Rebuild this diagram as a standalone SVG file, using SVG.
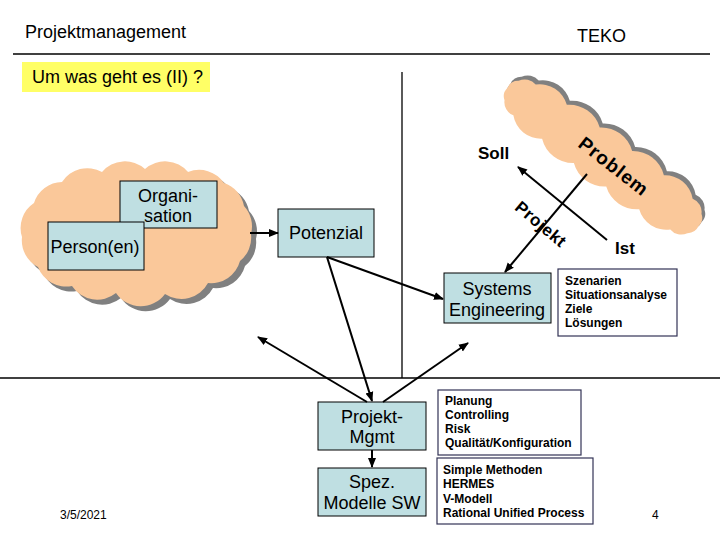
<svg xmlns="http://www.w3.org/2000/svg" width="720" height="540" viewBox="0 0 720 540">
<style>
text{font-family:"Liberation Sans",Arial,sans-serif;fill:#000}
.h{font-size:18px}
.n{font-size:18px;text-anchor:middle}
.b{font-size:12px;font-weight:bold}
.lab{font-size:17px;font-weight:bold}
.box{fill:#bfdfe2;stroke:#000;stroke-width:1}
.tb{fill:#fff;stroke:#333355;stroke-width:1.2}
.cloud{fill:#fac89a}
.shadow{fill:#808080}
.ln{stroke:#000;stroke-width:1.3;fill:none}
.ar{stroke:#000;stroke-width:2;fill:none;marker-end:url(#ah)}
</style>
<defs>
<marker id="ah" viewBox="0 0 10 10" refX="9" refY="5" markerWidth="10" markerHeight="10" markerUnits="userSpaceOnUse" orient="auto">
<path d="M0,1 L10,5 L0,9 z" fill="#000"/>
</marker>
<path id="cl1" d="M22,237 A30,30 0 0 1 34,203 A30,30 0 0 1 62,182 A30,30 0 0 1 102,172 A30,30 0 0 1 145,169 A30,30 0 0 1 188,172 A30,30 0 0 1 224,183 A30,30 0 0 1 244,206 A30,30 0 0 1 251,234 A30,30 0 0 1 240,261 A30,30 0 0 1 208,283 A30,30 0 0 1 165,294 A30,30 0 0 1 116,293 A30,30 0 0 1 72,286 A30,30 0 0 1 38,267 A30,30 0 0 1 22,237 Z"/>
<path id="cl2" d="M118,0 A12,12 0 0 1 113,12 A14,14 0 0 1 97,19 A28,28 0 0 1 60,21 A32,32 0 0 1 20,22 A32,32 0 0 1 -20,22 A32,32 0 0 1 -60,21 A28,28 0 0 1 -97,19 A14,14 0 0 1 -113,12 A12,12 0 0 1 -118,0 A12,12 0 0 1 -113,-12 A14,14 0 0 1 -97,-19 A28,28 0 0 1 -60,-21 A32,32 0 0 1 -20,-22 A32,32 0 0 1 20,-22 A32,32 0 0 1 60,-21 A28,28 0 0 1 97,-19 A14,14 0 0 1 113,-12 A12,12 0 0 1 118,0 Z"/>
</defs>
<rect width="720" height="540" fill="#fff"/>

<g id="header">
<text class="h" x="25" y="38">Projektmanagement</text>
<text class="h" x="577" y="42">TEKO</text>
<line class="ln" x1="13" y1="54" x2="710" y2="54"/>
<rect x="22" y="62" width="188" height="30" fill="#ffff66"/>
<text class="h" x="32" y="83">Um was geht es (II) ?</text>
</g>

<g id="frame">
<line class="ln" x1="402" y1="72" x2="402" y2="378"/>
<line class="ln" x1="0" y1="378" x2="720" y2="378"/>
</g>

<g id="cloud-left">
<use href="#cl1" class="shadow" transform="translate(5,5)"/>
<use href="#cl1" class="cloud"/>
</g>

<g id="cloud-problem">
<use href="#cl2" class="shadow" transform="translate(606,153) rotate(36)"/>
<use href="#cl2" class="cloud" transform="translate(603,157) rotate(36)"/>
<text class="lab" style="font-size:19px;letter-spacing:1px" text-anchor="middle" transform="translate(614,166) rotate(38)" y="7">Problem</text>
</g>

<g id="organisation">
<rect class="box" x="120" y="181" width="97" height="47"/>
<text class="n" x="168" y="202">Organi-</text>
<text class="n" x="168" y="222">sation</text>
</g>

<g id="person">
<rect class="box" x="48" y="222" width="96" height="48"/>
<text class="n" x="95" y="253">Person(en)</text>
</g>

<g id="potenzial">
<rect class="box" x="278" y="209" width="96" height="48"/>
<text class="n" x="326" y="239">Potenzial</text>
</g>

<g id="systems-engineering">
<rect class="box" x="444" y="273" width="107" height="50"/>
<text class="n" x="497" y="295">Systems</text>
<text class="n" x="497" y="316">Engineering</text>
</g>

<g id="se-list">
<rect class="tb" x="558" y="269" width="119" height="67"/>
<text class="b" x="565" y="285">Szenarien</text>
<text class="b" x="565" y="299">Situationsanalyse</text>
<text class="b" x="565" y="313">Ziele</text>
<text class="b" x="565" y="327">Lösungen</text>
</g>

<g id="projekt-mgmt">
<rect class="box" x="318" y="402" width="108" height="48"/>
<text class="n" x="372" y="423">Projekt-</text>
<text class="n" x="372" y="443">Mgmt</text>
</g>

<g id="spez-modelle">
<rect class="box" x="318" y="468" width="108" height="48"/>
<text class="n" x="372" y="488">Spez.</text>
<text class="n" x="372" y="509">Modelle SW</text>
</g>

<g id="pm-list">
<rect class="tb" x="438" y="390" width="143" height="65"/>
<text class="b" x="445" y="405">Planung</text>
<text class="b" x="445" y="419">Controlling</text>
<text class="b" x="445" y="433">Risk</text>
<text class="b" x="445" y="447">Qualität/Konfiguration</text>
</g>

<g id="modelle-list">
<rect class="tb" x="437" y="458" width="156" height="66"/>
<text class="b" x="443" y="474">Simple Methoden</text>
<text class="b" x="443" y="488">HERMES</text>
<text class="b" x="443" y="503">V-Modell</text>
<text class="b" x="443" y="517">Rational Unified Process</text>
</g>

<g id="labels">
<text class="lab" x="478" y="159">Soll</text>
<text class="lab" x="615" y="254">Ist</text>
<text class="lab" style="letter-spacing:0.5px" text-anchor="middle" transform="translate(541,224) rotate(40)" y="6">Projekt</text>
</g>

<g id="connectors">
<line class="ar" x1="250" y1="233" x2="278" y2="233"/>
<line class="ar" x1="327" y1="257" x2="443" y2="299"/>
<line class="ar" x1="327" y1="257" x2="372" y2="401"/>
<line class="ar" x1="367" y1="402" x2="258" y2="337"/>
<line class="ar" x1="383" y1="402" x2="468" y2="343"/>
<line class="ar" x1="372" y1="450" x2="372" y2="467"/>
<line class="ar" x1="607" y1="240" x2="518" y2="167"/>
<line class="ar" x1="587" y1="174" x2="505" y2="272"/>
</g>

<g id="footer">
<text x="60" y="519" style="font-size:12px">3/5/2021</text>
<text x="652" y="519" style="font-size:12px">4</text>
</g>
</svg>
